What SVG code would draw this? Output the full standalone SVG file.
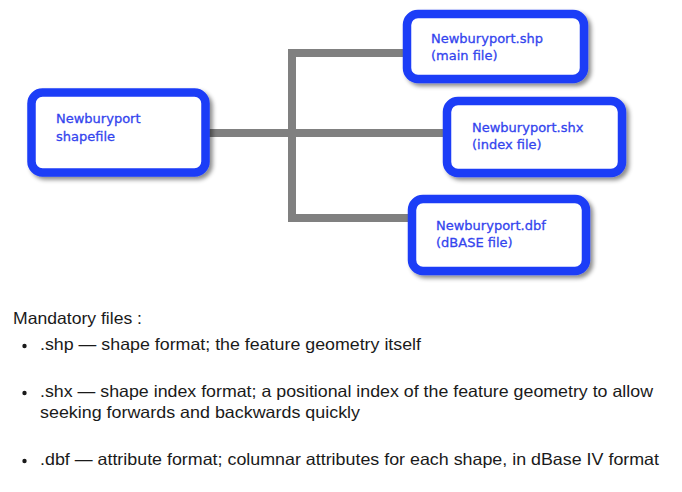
<svg xmlns="http://www.w3.org/2000/svg" width="682" height="492" viewBox="0 0 682 492">
<defs>
<filter id="sh" x="-10%" y="-10%" width="125%" height="135%">
<feDropShadow dx="3" dy="3" stdDeviation="2" flood-color="#000" flood-opacity="0.45"/>
</filter>
<style>
.box{fill:#fff;stroke:#1c3cf7;stroke-width:8.5;filter:url(#sh)}
.lbl{font-family:"DejaVu Sans",Verdana,sans-serif;font-size:13px;fill:#3344ee;stroke:#3344ee;stroke-width:0.3}
.conn{fill:none;stroke:#808080;stroke-width:8}
.body{font-family:"Liberation Sans",Arial,Helvetica,sans-serif;font-size:16.5px;fill:#1a1a1a}
.dot{fill:#1a1a1a}
</style>
</defs>
<rect width="682" height="492" fill="#fff"/>
<g id="connectors">
<path class="conn" d="M405 53 H292 V218 H410"/>
<path class="conn" d="M208 133 H445"/>
</g>
<g id="node-shapefile">
<rect class="box" x="31.5" y="92.5" width="174" height="80" rx="11"/>
<text class="lbl" x="56" y="123">Newburyport</text>
<text class="lbl" x="56" y="141">shapefile</text>
</g>
<g id="node-shp">
<rect class="box" x="407" y="14" width="177" height="65" rx="11"/>
<text class="lbl" x="431" y="43">Newburyport.shp</text>
<text class="lbl" x="431" y="60">(main file)</text>
</g>
<g id="node-shx">
<rect class="box" x="447" y="101" width="175" height="72" rx="11"/>
<text class="lbl" x="472" y="132">Newburyport.shx</text>
<text class="lbl" x="472" y="149">(index file)</text>
</g>
<g id="node-dbf">
<rect class="box" x="412" y="199" width="174" height="72" rx="11"/>
<text class="lbl" x="436" y="230">Newburyport.dbf</text>
<text class="lbl" x="436" y="247">(dBASE file)</text>
</g>
<g id="notes">
<text class="body" x="13" y="323.5" textLength="129" lengthAdjust="spacingAndGlyphs">Mandatory files :</text>
<circle class="dot" cx="24.5" cy="346" r="2.2"/>
<text class="body" x="40" y="350" textLength="381" lengthAdjust="spacingAndGlyphs">.shp — shape format; the feature geometry itself</text>
<circle class="dot" cx="24.5" cy="393" r="2.2"/>
<text class="body" x="40" y="397" textLength="613" lengthAdjust="spacingAndGlyphs">.shx — shape index format; a positional index of the feature geometry to allow</text>
<text class="body" x="40" y="418" textLength="320" lengthAdjust="spacingAndGlyphs">seeking forwards and backwards quickly</text>
<circle class="dot" cx="24.5" cy="461" r="2.2"/>
<text class="body" x="40" y="465" textLength="619" lengthAdjust="spacingAndGlyphs">.dbf — attribute format; columnar attributes for each shape, in dBase IV format</text>
</g>
</svg>
